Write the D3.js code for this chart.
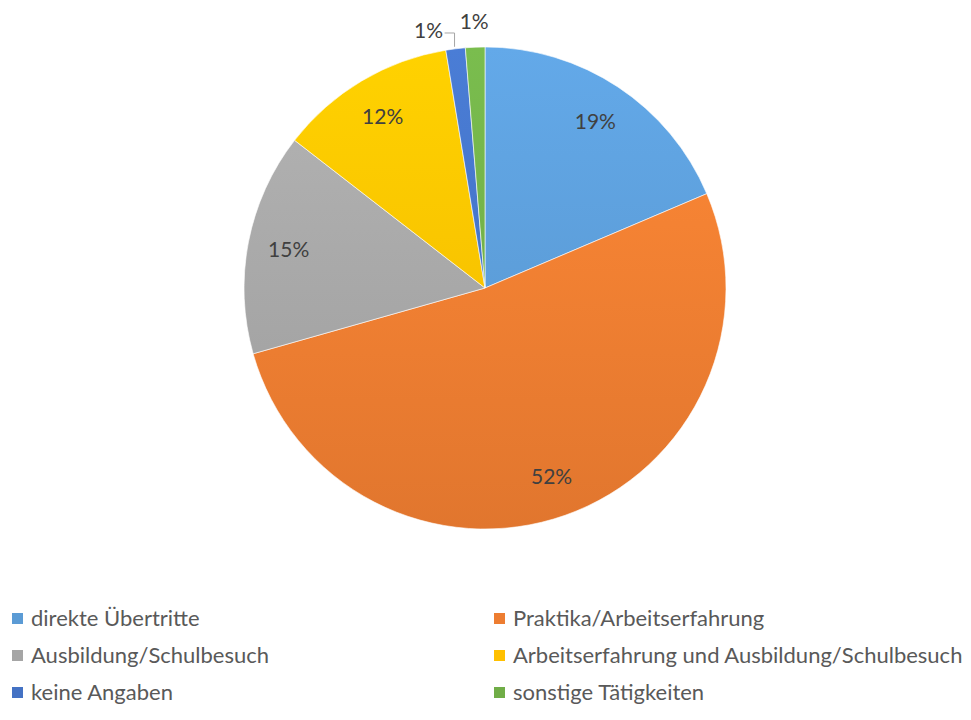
<!DOCTYPE html>
<html>
<head>
<meta charset="utf-8">
<script src="https://cdn.jsdelivr.net/npm/d3@7"></script>
<style>
  body { margin: 0; background: #fff; }
  svg text { font-family: Lato, "Open Sans", sans-serif; }
</style>
</head>
<body>
<div id="chart"></div>
<script>
// categories, shares (percent) and the label that is printed
var categories = ['direkte Übertritte', 'Praktika/Arbeitserfahrung', 'Ausbildung/Schulbesuch',
  'Arbeitserfahrung und Ausbildung/Schulbesuch', 'keine Angaben', 'sonstige Tätigkeiten'];
var shares = [18.6, 52.0, 14.9, 11.9, 1.3, 1.3];
var labels = ['19%', '52%', '15%', '12%', '1%', '1%'];
var colors = ['#5B9BD5', '#ED7D31', '#A5A5A5', '#FFC000', '#4472C4', '#70AD47'];

var width = 971, height = 720;
var cx = 485, cy = 288, R = 241;

var svg = d3.select('#chart').append('svg')
  .attr('width', width).attr('height', height);

var defs = svg.append('defs');
colors.forEach(function(c, i) {
  // soft top-to-bottom shading like the office style
  var g = defs.append('linearGradient')
    .attr('id', 'grad' + i)
    .attr('gradientUnits', 'userSpaceOnUse')
    .attr('x1', 0).attr('y1', -R).attr('x2', 0).attr('y2', R);
  g.append('stop').attr('offset', '0%').attr('stop-color', d3.color(c).brighter(0.25));
  g.append('stop').attr('offset', '100%').attr('stop-color', d3.color(c).darker(0.15));
});

var data = categories.map(function(name, i) {
  return { name: name, value: shares[i], label: labels[i], color: colors[i], idx: i };
});

var pie = d3.pie().sort(null).value(function(d) { return d.value; });
var arcs = pie(data);
var arc = d3.arc().innerRadius(0).outerRadius(R);
var labelArc = d3.arc().innerRadius(R * 0.83).outerRadius(R * 0.83);
var outerArc = d3.arc().innerRadius(R + 24).outerRadius(R + 24);

var g = svg.append('g').attr('transform', 'translate(' + cx + ',' + cy + ')');

g.selectAll('path.slice')
  .data(arcs)
  .enter().append('path')
  .attr('class', 'slice')
  .attr('d', arc)
  .attr('fill', function(d) { return 'url(#grad' + d.data.idx + ')'; })
  .attr('stroke', '#fff')
  .attr('stroke-width', 0.6);

// data labels: inside for big slices, outside for the tiny ones
var small = 3;
var outsideShift = { 4: -24, 5: 0 };
g.selectAll('text.lbl')
  .data(arcs)
  .enter().append('text')
  .attr('class', 'lbl')
  .attr('transform', function(d) {
    var p;
    if (d.data.value < small) {
      p = outerArc.centroid(d);
      p[0] += outsideShift[d.data.idx];
      p[1] += d.data.idx === 4 ? 6 : -2;
    } else {
      p = labelArc.centroid(d);
    }
    return 'translate(' + p[0] + ',' + p[1] + ')';
  })
  .attr('text-anchor', 'middle')
  .attr('dy', '0.35em')
  .attr('font-size', 21)
  .attr('fill', '#404040')
  .text(function(d) { return d.data.label; });

// leader line for "keine Angaben"
var ka = arcs[4];
var edge = d3.arc().innerRadius(R).outerRadius(R).centroid(ka);
var lp = outerArc.centroid(ka);
var lx = lp[0] + outsideShift[4] + 16, ly = lp[1] + 8;
g.append('path')
  .attr('d', 'M' + lx + ',' + ly + 'H' + (edge[0] - 1) + 'V' + (edge[1] - 2))
  .attr('fill', 'none')
  .attr('stroke', '#a6a6a6')
  .attr('stroke-width', 1);

// legend in two columns
var legend = svg.append('g').attr('class', 'legend');
var colX = [12, 494], rowY = [618, 655, 692];
var items = legend.selectAll('g.item')
  .data(data)
  .enter().append('g')
  .attr('class', 'item')
  .attr('transform', function(d, i) {
    return 'translate(' + colX[i % 2] + ',' + rowY[Math.floor(i / 2)] + ')';
  });
items.append('rect')
  .attr('x', 0).attr('y', -5)
  .attr('width', 11).attr('height', 11)
  .attr('fill', function(d) { return d.color; });
items.append('text')
  .attr('x', 19).attr('dy', '0.35em')
  .attr('font-size', 22)
  .attr('fill', '#595959')
  .text(function(d) { return d.name; });
</script>
</body>
</html>
